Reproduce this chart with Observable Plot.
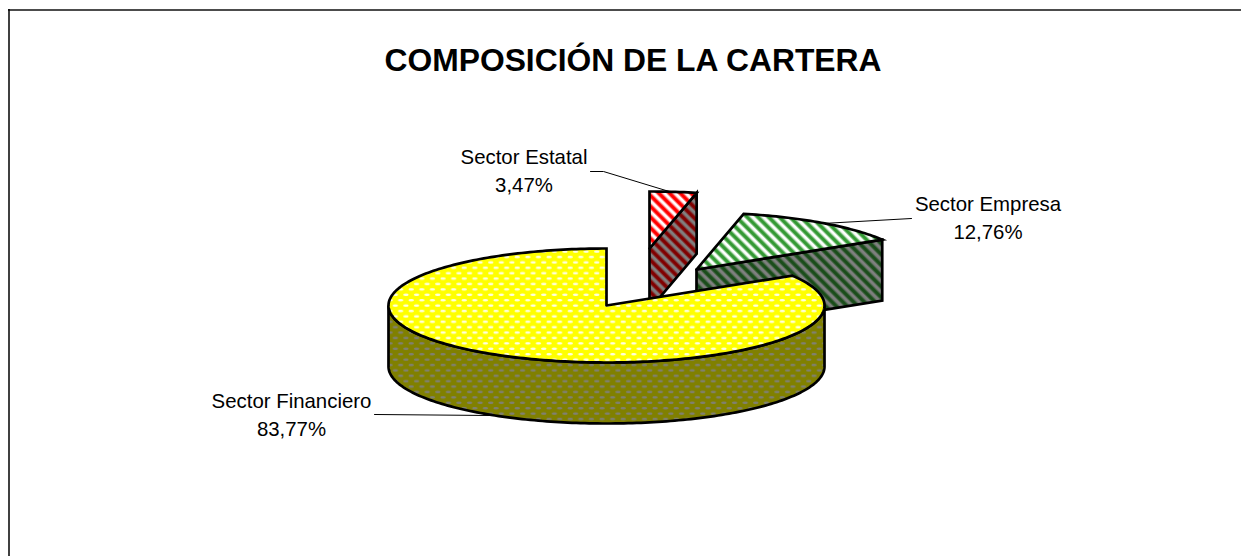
<!DOCTYPE html>
<html lang="es">
<head>
<meta charset="utf-8">
<title>Composición de la cartera</title>
<script src="https://cdn.jsdelivr.net/npm/d3@7"></script>
<script src="https://cdn.jsdelivr.net/npm/@observablehq/plot@0.6"></script>
<style>
html,body{margin:0;padding:0;background:#fff;overflow:hidden}
svg{display:block}
</style>
</head>
<body>
<div id="chart"></div>
<script>
// Data
const sectors = ["Sector Estatal", "Sector Empresa", "Sector Financiero"];
const shares = [3.47, 12.76, 83.77];
const chartTitle = "COMPOSICIÓN DE LA CARTERA";

// Layout (pie ellipse is the unit circle in scale space)
const W = 1241, H = 556;
const cx = 606, cy = 305, rx = 218, ry = 57;
const depth = 61 / ry;
const ux = px => (px - cx) / rx;
const uy = py => (cy - py) / ry;
const explode = [[43 / rx, 57 / ry], [90 / rx, 36 / ry], [0, 0]];
const labelAt = [[523.5, 168.5], [987.5, 215.5], [291, 412.5]];
const leaders = [
  [[590, 171], [603, 171], [672, 192]],
  [[911, 218], [822, 223]],
  [[374, 414], [490, 415]]
];

const arcs = d3.pie().sort(null).value(d => d)(shares);
const pt = (i, a, drop = 0) => ({x: Math.sin(a) + explode[i][0], y: Math.cos(a) + explode[i][1] - drop});
const apex = (i, drop = 0) => ({x: explode[i][0], y: explode[i][1] - drop});
const arcPts = (i, a0, a1, drop = 0) => {
  const n = Math.max(2, Math.ceil(Math.abs(a1 - a0) / 0.02));
  return d3.range(n + 1).map(k => pt(i, a0 + (a1 - a0) * k / n, drop));
};
const topFace = i => [apex(i), ...arcPts(i, arcs[i].startAngle, arcs[i].endAngle), apex(i)];
const cutFace = i => {
  const a = arcs[i].endAngle;
  return [apex(i), pt(i, a), pt(i, a, depth), apex(i, depth), apex(i)];
};
const wall = i => {
  const front = arcPts(i, Math.PI / 2, 3 * Math.PI / 2);
  const back = arcPts(i, 3 * Math.PI / 2, Math.PI / 2, depth);
  return [...front, ...back, front[0]];
};

const faceStyle = {x: "x", y: "y", stroke: "#000", strokeWidth: 2.7, strokeLinejoin: "miter", strokeMiterlimit: 8};

const ns = "http://www.w3.org/2000/svg";
function stripes(id, fg, bg) {
  return `<pattern id="${id}" patternUnits="userSpaceOnUse" width="7.6" height="7.6" patternTransform="rotate(-45)">
    <rect width="7.6" height="7.6" fill="${bg}"/>
    <rect x="0" width="5" height="7.6" fill="${fg}" opacity="0.5"/>
    <rect x="1" width="3" height="7.6" fill="${fg}"/>
  </pattern>`;
}
function dots(id, fg, bg) {
  return `<pattern id="${id}" patternUnits="userSpaceOnUse" width="10.6" height="10.8">
    <rect width="10.6" height="10.8" fill="${bg}"/>
    <ellipse cx="2.65" cy="2.7" rx="2.7" ry="1.3" fill="${fg}" opacity="0.9"/>
    <ellipse cx="7.95" cy="8.1" rx="2.7" ry="1.3" fill="${fg}" opacity="0.9"/>
  </pattern>`;
}
const defs = () => {
  const g = document.createElementNS(ns, "defs");
  g.innerHTML = [
    stripes("pRed", "#ff0000", "#ffffff"),
    stripes("pRedDark", "#800000", "#808080"),
    stripes("pGreen", "#339933", "#ffffff"),
    stripes("pGreenDark", "#1a4d1a", "#808080"),
    dots("pYellow", "#ffffff", "#ffff00"),
    dots("pOlive", "#808080", "#808000")
  ].join("");
  return g;
};

const labels = sectors.map((s, i) => ({
  x: ux(labelAt[i][0]), y: uy(labelAt[i][1]),
  text: `${s}\n${shares[i].toFixed(2).replace(".", ",")}%`
}));
const leaderRows = leaders.flatMap((l, i) => l.map(p => ({i, x: ux(p[0]), y: uy(p[1])})));

const chart = Plot.plot({
  width: W, height: H,
  marginTop: 0, marginRight: 0, marginBottom: 0, marginLeft: 0,
  x: {domain: [-1, 1], range: [cx - rx, cx + rx], axis: null},
  y: {domain: [1, -1], range: [cy - ry, cy + ry], axis: null},
  style: {background: "#fff"},
  marks: [
    defs,
    // frame of the chart area
    Plot.ruleY([uy(9.5)], {x1: ux(8), x2: ux(W), stroke: "#111", strokeWidth: 1.5}),
    Plot.ruleX([ux(8.5)], {y1: uy(9), y2: uy(H), stroke: "#000", strokeWidth: 1.5}),
    // Sector Estatal
    Plot.line(cutFace(0), {...faceStyle, fill: "url(#pRedDark)"}),
    Plot.line(topFace(0), {...faceStyle, fill: "url(#pRed)"}),
    // Sector Empresa
    Plot.line(cutFace(1), {...faceStyle, fill: "url(#pGreenDark)"}),
    Plot.line(topFace(1), {...faceStyle, fill: "url(#pGreen)"}),
    // Sector Financiero
    Plot.line(wall(2), {...faceStyle, fill: "url(#pOlive)"}),
    Plot.line(topFace(2), {...faceStyle, fill: "url(#pYellow)"}),
    // Leaders and labels
    Plot.line(leaderRows, {x: "x", y: "y", z: "i", stroke: "#000", strokeWidth: 1}),
    Plot.text(labels, {
      x: "x", y: "y", text: "text",
      fontFamily: "Liberation Sans", fontSize: 20.4, lineHeight: 1.4, fill: "#000", textAnchor: "middle"
    }),
    Plot.text([chartTitle], {
      x: [ux(632.5)], y: [uy(60)],
      fontFamily: "Liberation Sans", fontWeight: "bold", fontSize: 31.8, fill: "#000", textAnchor: "middle"
    })
  ]
});
document.getElementById("chart").append(chart);
</script>
</body>
</html>
